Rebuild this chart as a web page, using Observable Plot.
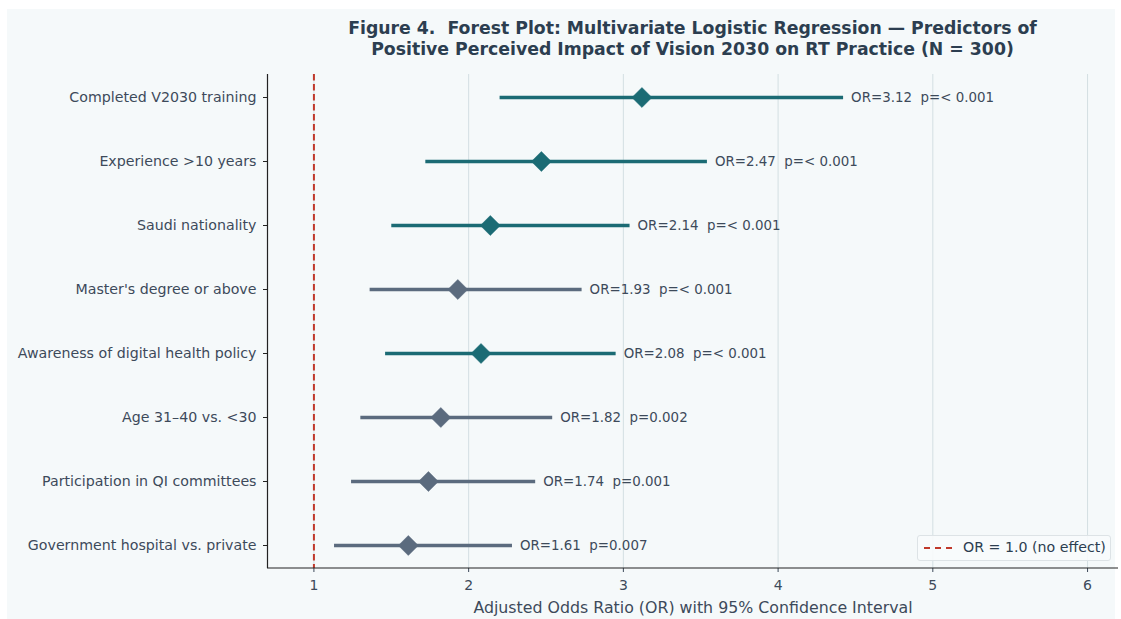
<!DOCTYPE html>
<html>
<head>
<meta charset="utf-8">
<script src="https://cdn.jsdelivr.net/npm/d3@7"></script>
<script src="https://cdn.jsdelivr.net/npm/@observablehq/plot@0.6"></script>
<style>
  body { margin:0; background:#ffffff; font-family:"DejaVu Sans", sans-serif; }
  #panel { position:absolute; left:7px; top:9px; width:1108px; height:610px; background:#f5f9fa; }
  #wrap { position:relative; width:1121px; height:619px; }
  #title { position:absolute; left:267px; width:851px; top:18px; text-align:center; font-weight:bold; font-size:17.3px; line-height:21px; color:#2c3e50; white-space:pre; }
  #chart { position:absolute; left:0; top:60px; }
  svg text { white-space:pre; }
  #legend { position:absolute; left:917px; top:535px; width:194px; height:26px; border:1px solid #dde3e6; border-radius:3px; background:rgba(248,251,252,0.9); box-sizing:border-box; font-size:14.2px; color:#2c3e50; }
  #legend .dash { position:absolute; left:6px; top:11px; width:28px; height:0; border-top:2px dashed #c0392b; }
  #legend .lab { position:absolute; left:45px; top:3px; }
</style>
</head>
<body>
<div id="panel"></div>
<div id="wrap">
  <div id="title">Figure 4.  Forest Plot: Multivariate Logistic Regression — Predictors of
Positive Perceived Impact of Vision 2030 on RT Practice (N = 300)</div>
  <div id="chart"></div>
  <div id="legend"><div class="dash"></div><div class="lab">OR = 1.0 (no effect)</div></div>
</div>
<script>
const predictors = [
  "Completed V2030 training",
  "Experience >10 years",
  "Saudi nationality",
  "Master's degree or above",
  "Awareness of digital health policy",
  "Age 31–40 vs. <30",
  "Participation in QI committees",
  "Government hospital vs. private"
];
const oddsRatios = [3.12, 2.47, 2.14, 1.93, 2.08, 1.82, 1.74, 1.61];
const ciLow  = [2.20, 1.72, 1.50, 1.36, 1.46, 1.30, 1.24, 1.13];
const ciHigh = [4.42, 3.54, 3.04, 2.73, 2.95, 2.54, 2.43, 2.28];
const pValues = ["< 0.001", "< 0.001", "< 0.001", "< 0.001", "< 0.001", "0.002", "0.001", "0.007"];
const groups = ["teal", "teal", "teal", "slate", "teal", "slate", "slate", "slate"];
const xTicks = [1, 2, 3, 4, 5, 6];

const rows = predictors.map((name, i) => ({
  name, or: oddsRatios[i], lo: ciLow[i], hi: ciHigh[i], p: pValues[i], group: groups[i],
  label: `OR=${oddsRatios[i].toFixed(2)}  p=${pValues[i]}`
}));

const colorOf = {teal: "#1b6b74", slate: "#5b6b7e"};

const chart = Plot.plot({
  width: 1121,
  height: 559,
  marginTop: 14,
  marginBottom: 51,
  marginLeft: 267,
  marginRight: 3,
  style: {background: "transparent", fontFamily: "DejaVu Sans, sans-serif", fontSize: "13px", color: "#3d4a5a"},
  x: {domain: [0.7, 6.2]},
  y: {type: "point", domain: predictors, padding: 0.34},
  marks: [
    Plot.gridX(xTicks, {stroke: "#d3dfe2", strokeOpacity: 1, strokeWidth: 1}),
    Plot.ruleX([1], {stroke: "#c0392b", strokeWidth: 2, strokeDasharray: "6.5,3.5"}),
    Plot.link(rows, {x1: "lo", x2: "hi", y1: "name", y2: "name", stroke: d => colorOf[d.group], strokeWidth: 3.5}),
    Plot.dot(rows, {x: "or", y: "name", symbol: "diamond2", r: 9, fill: d => colorOf[d.group], stroke: d => colorOf[d.group], strokeWidth: 0.5}),
    Plot.text(rows, {x: "hi", y: "name", text: "label", textAnchor: "start", dx: 8, fill: "#3d4a5a", fontSize: 13.4}),
    Plot.axisY({tickSize: 4, tickPadding: 7, fontSize: 14.2, label: null, stroke: "#222", color: "#3d4a5a"}),
    Plot.axisX(xTicks, {tickSize: 4, tickPadding: 8, fontSize: 14, label: null, color: "#3d4a5a", tickFormat: d3.format("d")}),
    Plot.ruleX([0.7], {stroke: "#222", strokeWidth: 1.2}),
    Plot.text(["Adjusted Odds Ratio (OR) with 95% Confidence Interval"], {
      frameAnchor: "bottom", dy: 44, fontSize: 15.8, fill: "#3d4a5a"
    })
  ]
});
d3.select("#chart").node().appendChild(chart);

// bottom spine
const svg = d3.select(chart);
svg.append("line")
  .attr("x1", 267).attr("x2", 1118)
  .attr("y1", 559 - 51).attr("y2", 559 - 51)
  .attr("stroke", "#222").attr("stroke-width", 1.2);
</script>
</body>
</html>
